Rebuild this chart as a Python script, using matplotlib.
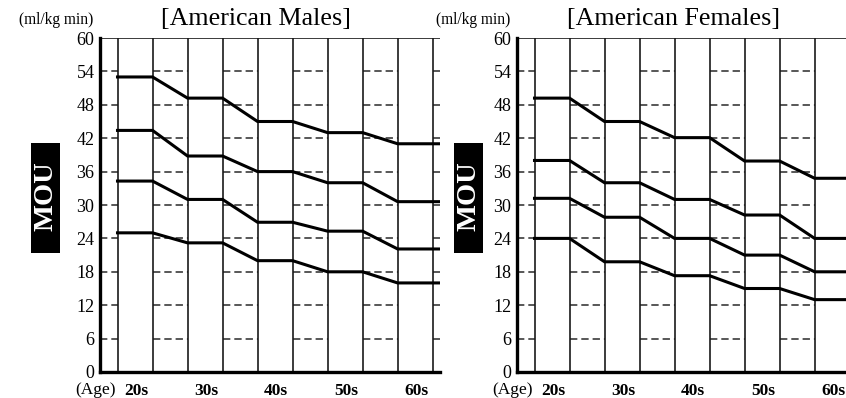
import numpy as np
import matplotlib
matplotlib.use("Agg")
import matplotlib.pyplot as plt
from matplotlib.patches import Rectangle

plt.rcParams["font.family"] = ["Liberation Serif", "DejaVu Serif"]

ages = ["20s", "30s", "40s", "50s", "60s"]
yticks = [0, 6, 12, 18, 24, 30, 36, 42, 48, 54, 60]

males = [
    [53.0, 49.2, 45.0, 43.0, 41.0],
    [43.4, 38.8, 36.0, 34.0, 30.6],
    [34.3, 31.0, 26.9, 25.3, 22.1],
    [25.0, 23.2, 20.0, 18.0, 16.0],
]
females = [
    [49.2, 45.0, 42.1, 37.9, 34.8],
    [38.0, 34.0, 31.0, 28.2, 24.0],
    [31.2, 27.8, 24.0, 21.0, 18.0],
    [24.0, 19.8, 17.3, 15.0, 13.0],
]

W, H = 846, 398
fig = plt.figure(figsize=(W / 100, H / 100), dpi=100)

XMAX = 9.71
ax_w = 340 / W
ax_b = (H - 372) / H
ax_h = 334 / H


def draw_panel(left_px, title, series, box_px):
    ax = fig.add_axes([left_px / W, ax_b, ax_w, ax_h])
    ax.set_xlim(0, XMAX)
    ax.set_ylim(0, 60)

    # vertical column lines
    for xv in np.arange(0.5, XMAX, 1.0):
        ax.plot([xv, xv], [0, 60], color="#1a1a1a", lw=1.2, zorder=2)
    # top line
    ax.plot([0, XMAX], [60, 60], color="#1a1a1a", lw=1.2, zorder=2)

    # dashed grid only in the gaps between age columns
    gaps = [(0, 0.5)] + [(a, a + 1) for a in np.arange(1.5, XMAX - 0.5, 2.0)] + [(9.5, XMAX)]
    for yv in yticks[1:-1]:
        for a, b in gaps:
            ax.plot([a, b], [yv, yv], color="#2a2a2a", lw=1.1,
                    linestyle=(0, (4.8, 2.6)), zorder=1)

    xs = [0.5, 1.5, 2.5, 3.5, 4.5, 5.5, 6.5, 7.5, 8.5, XMAX]
    for vals in series:
        ax.plot(xs, np.repeat(vals, 2), color="black", lw=2.2,
                solid_joinstyle="miter", zorder=3)

    for s in ["top", "right"]:
        ax.spines[s].set_visible(False)
    ax.spines["left"].set_linewidth(2.4)
    ax.spines["bottom"].set_linewidth(2.4)
    ax.spines["left"].set_zorder(4)
    ax.spines["bottom"].set_zorder(4)

    ax.set_yticks(yticks)
    ax.set_yticklabels([str(t) for t in yticks], fontsize=13)
    ax.tick_params(axis="y", length=0, pad=4)
    ax.set_xticks([1.03, 3.03, 5.03, 7.03, 9.03])
    ax.set_xticklabels(ages, fontsize=12.5, fontweight="bold")
    ax.tick_params(axis="x", length=0, pad=8)
    ax.annotate("(Age)", xy=(-5 / 340, 0), xycoords="axes fraction",
                xytext=(0, -7), textcoords="offset points",
                fontsize=12.5, ha="center", va="top")

    ax.text(-7 / 340, 1.03, "(ml/kg min)", transform=ax.transAxes,
            fontsize=11.2, ha="right", va="bottom")
    ax.text((256 - 100) / 340, 1.025, title, transform=ax.transAxes,
            fontsize=18.7, ha="center", va="bottom")

    x0, x1 = box_px
    fig.patches.append(Rectangle((x0 / W, (H - 253) / H), (x1 - x0) / W, 110 / H,
                                 transform=fig.transFigure, facecolor="black",
                                 edgecolor="none"))
    fig.text((x0 + x1) / 2 / W, (H - 196) / H, "MOU", rotation=90,
             color="white", fontsize=20.5, fontweight="bold",
             ha="center", va="center")
    return ax


draw_panel(100, "[American Males]", males, (31, 60))
draw_panel(517, "[American Females]", females, (454, 483))

fig.savefig("out.png", dpi=100)
